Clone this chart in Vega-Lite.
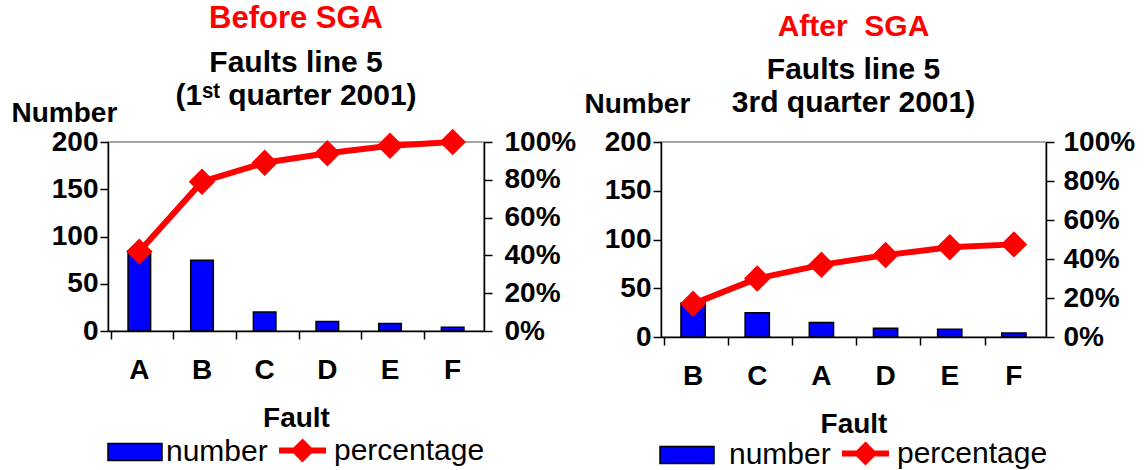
{
  "$schema": "https://vega.github.io/schema/vega-lite/v6.json",
  "padding": {"left": 10, "top": 2, "right": 5, "bottom": 0},
  "background": "white",
  "spacing": 177,
  "bounds": "flush",
  "config": {
    "font": "Liberation Sans",
    "view": {"stroke": "#888888", "strokeWidth": 1.5},
    "axis": {
      "labelFont": "Liberation Sans", "labelFontWeight": "bold", "labelFontSize": 28, "labelColor": "black",
      "titleFont": "Liberation Sans", "titleFontSize": 28, "titleFontWeight": "bold", "titleColor": "black",
      "domainColor": "black", "domainWidth": 1.5, "tickColor": "black", "tickWidth": 1.5, "tickSize": 8, "grid": false
    },
    "title": {
      "font": "Liberation Sans", "fontSize": 30, "fontWeight": "bold", "color": "red",
      "subtitleFont": "Liberation Sans", "subtitleFontSize": 30, "subtitleFontWeight": "bold", "subtitleColor": "black",
      "subtitlePadding": 13, "subtitleLineHeight": 33, "anchor": "middle", "frame": "group"
    },
    "legend": {
      "orient": "bottom", "direction": "horizontal", "title": null,
      "labelFont": "Liberation Sans", "labelFontSize": 30, "labelFontWeight": "normal", "labelColor": "black",
      "symbolOpacity": 1, "offset": -8,
      "layout": {"bottom": {"anchor": "middle", "margin": 8}}
    }
  },
  "datasets": {
    "before": [
      {"fault": "A", "number": 85, "percentage": 0.42},
      {"fault": "B", "number": 75, "percentage": 0.79},
      {"fault": "C", "number": 20, "percentage": 0.89},
      {"fault": "D", "number": 10, "percentage": 0.94},
      {"fault": "E", "number": 8, "percentage": 0.98},
      {"fault": "F", "number": 4, "percentage": 1.0}
    ],
    "after": [
      {"fault": "B", "number": 35, "percentage": 0.17},
      {"fault": "C", "number": 25, "percentage": 0.30},
      {"fault": "A", "number": 15, "percentage": 0.37},
      {"fault": "D", "number": 9, "percentage": 0.42},
      {"fault": "E", "number": 8, "percentage": 0.46},
      {"fault": "F", "number": 4, "percentage": 0.475}
    ]
  },
  "resolve": {
    "scale": {"fill": "independent", "stroke": "independent"},
    "legend": {"fill": "independent", "stroke": "independent"}
  },
  "hconcat": [
    {
      "width": 376, "height": 189,
      "data": {"name": "before"},
      "title": {"text": "Before SGA", "subtitle": ["Faults line 5", "(1ˢᵗ quarter 2001)"], "offset": -13, "fontSize": 31},
      "encoding": {
        "x": {"field": "fault", "type": "nominal", "sort": null,
              "axis": {"title": "Fault", "bandPosition": 0, "labelAngle": 0, "labelPadding": 17, "titlePadding": 20}}
      },
      "layer": [
        {
          "mark": {"type": "bar", "stroke": "black", "strokeWidth": 1.5, "width": {"band": 0.4}},
          "encoding": {
            "y": {"field": "number", "type": "quantitative", "scale": {"domain": [0, 200]},
                  "axis": {"title": "Number", "titleAngle": 0, "titleAlign": "left", "titleBaseline": "alphabetic",
                           "titleX": -97, "titleY": -21, "values": [0, 50, 100, 150, 200], "labelPadding": 2}},
            "fill": {"datum": "number", "type": "nominal", "scale": {"domain": ["number"], "range": ["#0000ff"]},
                     "legend": {"symbolType": "M-1,-0.315H1V0.315H-1Z", "symbolSize": 2916, "labelOffset": 3,
                                "encode": {"symbols": {"update": {"stroke": {"value": "black"}, "strokeWidth": {"value": 1.5}}}}}}
          }
        },
        {
          "encoding": {
            "y": {"field": "percentage", "type": "quantitative", "scale": {"domain": [0, 1]},
                  "axis": {"orient": "right", "title": null, "format": ".0%", "values": [0, 0.2, 0.4, 0.6, 0.8, 1], "labelPadding": 12}}
          },
          "layer": [
            {
              "mark": {"type": "line", "strokeWidth": 6},
              "encoding": {
                "stroke": {"datum": "percentage", "type": "nominal", "scale": {"domain": ["percentage"], "range": ["#ff0000"]},
                           "legend": {"symbolType": "M-1,0H1M0,-0.33L0.33,0L0,0.33L-0.33,0Z", "symbolSize": 2209, "symbolStrokeWidth": 6, "labelOffset": 5,
                                      "encode": {"symbols": {"update": {"fill": {"value": "#ff0000"}}}}}}
              }
            },
            {
              "mark": {"type": "point", "shape": "diamond", "filled": true, "color": "#ff0000", "size": 700, "opacity": 1},
              "encoding": {}
            }
          ]
        }
      ],
      "resolve": {"scale": {"y": "independent"}}
    },
    {
      "width": 385, "height": 195,
      "data": {"name": "after"},
      "title": {"text": "After\u00a0 SGA", "subtitle": ["Faults line 5", "3rd quarter 2001)"], "offset": -28},
      "encoding": {
        "x": {"field": "fault", "type": "nominal", "sort": null,
              "axis": {"title": "Fault", "bandPosition": 0, "labelAngle": 0, "labelPadding": 17, "titlePadding": 20}}
      },
      "layer": [
        {
          "mark": {"type": "bar", "stroke": "black", "strokeWidth": 1.5, "width": {"band": 0.42}},
          "encoding": {
            "y": {"field": "number", "type": "quantitative", "scale": {"domain": [0, 200]},
                  "axis": {"title": "Number", "titleAngle": 0, "titleAlign": "left", "titleBaseline": "alphabetic",
                           "titleX": -77, "titleY": -30, "values": [0, 50, 100, 150, 200], "labelPadding": 2}},
            "fill": {"datum": "number", "type": "nominal", "scale": {"domain": ["number"], "range": ["#0000ff"]},
                     "legend": {"symbolType": "M-1,-0.315H1V0.315H-1Z", "symbolSize": 2916, "labelOffset": 14, "offset": -11,
                                "encode": {"symbols": {"update": {"stroke": {"value": "black"}, "strokeWidth": {"value": 1.5}}}}}}
          }
        },
        {
          "encoding": {
            "y": {"field": "percentage", "type": "quantitative", "scale": {"domain": [0, 1]},
                  "axis": {"orient": "right", "title": null, "format": ".0%", "values": [0, 0.2, 0.4, 0.6, 0.8, 1], "labelPadding": 9}}
          },
          "layer": [
            {
              "mark": {"type": "line", "strokeWidth": 6},
              "encoding": {
                "stroke": {"datum": "percentage", "type": "nominal", "scale": {"domain": ["percentage"], "range": ["#ff0000"]},
                           "legend": {"symbolType": "M-1,0H1M0,-0.33L0.33,0L0,0.33L-0.33,0Z", "symbolSize": 2209, "symbolStrokeWidth": 6, "labelOffset": 5, "offset": -11,
                                      "encode": {"symbols": {"update": {"fill": {"value": "#ff0000"}}}}}}
              }
            },
            {
              "mark": {"type": "point", "shape": "diamond", "filled": true, "color": "#ff0000", "size": 700, "opacity": 1},
              "encoding": {}
            }
          ]
        }
      ],
      "resolve": {"scale": {"y": "independent"}}
    }
  ]
}
